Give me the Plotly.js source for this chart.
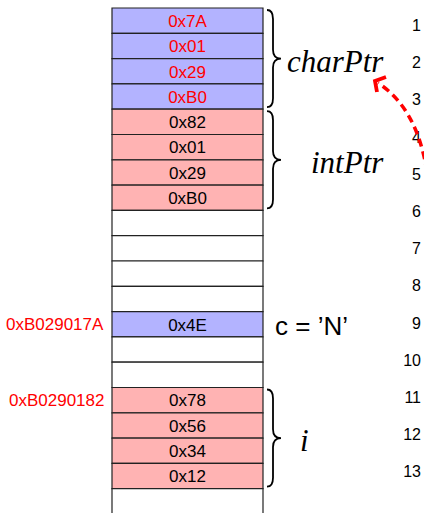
<!DOCTYPE html>
<html>
<head>
<meta charset="utf-8">
<script src="https://cdn.plot.ly/plotly-3.0.1.min.js"></script>
<style>html,body{margin:0;padding:0;background:#fff;}#chart{width:424px;height:513px;}</style>
</head>
<body>
<div id="chart"></div>
<script>
// ---- data ----
const cellValues = ['0x7A','0x01','0x29','0xB0','0x82','0x01','0x29','0xB0','','','','','0x4E','','','0x78','0x56','0x34','0x12',''];
const cellKinds  = ['char','char','char','char','int','int','int','int','empty','empty','empty','empty','char','empty','empty','int','int','int','int','empty'];
const cellRedText = [1,1,1,1,0,0,0,0,0,0,0,0,0,0,0,0,0,0,0,0];
const addrLabels = ['0xB029017A','0xB0290182'];
const addrRows   = [12, 15];
const braceNames = ['charPtr','intPtr','i'];
const braceStart = [0, 4, 15];
const braceEnd   = [4, 8, 19];
const varLabel = 'c = \u2019N\u2019';
const varRow = 12;
const lineNumbers = [1,2,3,4,5,6,7,8,9,10,11,12,13];

// ---- styles / layout constants ----
const kindColor = {char:'#b3b3ff', int:'#ffb3b3', empty:'#ffffff'};
const colX = 187.5, colW = 151;
const rowPx = 25.3, topPx = 8;
const toRow = py => (py - topPx) / rowPx;
const sans = 'Liberation Sans, Arial, Helvetica, sans-serif';
const serifIt = 'Liberation Serif, Times New Roman, serif';

const cells = {
  type:'bar', x: cellValues.map(()=>colX), y: cellValues.map(()=>1),
  base: cellValues.map((_,i)=>i), width: colW,
  marker:{color: cellKinds.map(k=>kindColor[k]), line:{color:'#222', width:1.2}},
  hoverinfo:'skip', showlegend:false
};
const cellText = {
  type:'scatter', mode:'text', x: cellValues.map(()=>colX), y: cellValues.map((_,i)=>i+0.58),
  text: cellValues, textposition:'middle center',
  textfont:{family:sans, size:17, color: cellRedText.map(r=>r?'#ff0000':'#000000')},
  hoverinfo:'skip', showlegend:false
};

const nums = {
  type:'scatter', mode:'text', x: lineNumbers.map(()=>421), y: lineNumbers,
  yaxis:'y2', text: lineNumbers.map(String), textposition:'middle left',
  textfont:{family:sans, size:16, color:'#000'}, hoverinfo:'skip', showlegend:false
};

function bracePath(a, b){
  const y0 = a + 0.08, y1 = b - 0.08, ym = (a + b)/2, r = 0.35;
  const x0 = 267, xs = 273, xt = 281;
  return `M ${x0},${y0} Q ${xs},${y0} ${xs},${y0+r} L ${xs},${ym-r} Q ${xs},${ym} ${xt},${ym} ` +
         `Q ${xs},${ym} ${xs},${ym+r} L ${xs},${y1-r} Q ${xs},${y1} ${x0},${y1}`;
}
const shapes = braceNames.map((_,k)=>({type:'path', xref:'x', yref:'y', path: bracePath(braceStart[k], braceEnd[k]), line:{color:'#000', width:1.8}}));
// dashed arrow
shapes.push({type:'path', xref:'x', yref:'y',
  path:`M 427,${toRow(172)} Q 417,${toRow(108)} 378,${toRow(83)}`,
  line:{color:'#ff0000', width:3.5, dash:'8px,5px'}});
shapes.push({type:'path', xref:'x', yref:'y',
  path:`M 386,${toRow(77)} L 375,${toRow(81)} L 377,${toRow(92)}`,
  line:{color:'#ff0000', width:3.8}});

const annotations = [];
addrLabels.forEach((t,k)=>annotations.push({x:106, y:addrRows[k]+0.5, xref:'x', yref:'y', text:t, showarrow:false, xanchor:'right', yanchor:'middle', font:{family:sans, size:17, color:'#ff0000'}}));
const braceLabelX = [386, 386, 304];
const braceLabelAnchor = ['right','right','center'];
braceNames.forEach((t,k)=>annotations.push({x:braceLabelX[k], y:(braceStart[k]+braceEnd[k])/2 + 0.1, xref:'x', yref:'y', text:'<i>'+t+'</i>', showarrow:false, xanchor:braceLabelAnchor[k], yanchor:'middle', font:{family:serifIt, size:31, color:'#000'}}));
annotations.push({x:273, y:varRow+0.55, xref:'x', yref:'y', text:varLabel, showarrow:false, xanchor:'left', yanchor:'middle', font:{family:sans, size:26, color:'#000'}});

const layout = {
  width:424, height:513, margin:{l:0,r:0,t:0,b:0},
  paper_bgcolor:'#fff', plot_bgcolor:'#fff', barmode:'overlay', hovermode:false,
  xaxis:{range:[0,424], visible:false, fixedrange:true},
  yaxis:{range:[toRow(513), toRow(0)], visible:false, fixedrange:true},
  yaxis2:{range:[(513-27)/37.2+1, (0-27)/37.2+1], overlaying:'y', visible:false, fixedrange:true},
  shapes: shapes, annotations: annotations, showlegend:false
};
Plotly.newPlot('chart', [cells, cellText, nums], layout, {staticPlot:true, displayModeBar:false});
</script>
</body>
</html>
